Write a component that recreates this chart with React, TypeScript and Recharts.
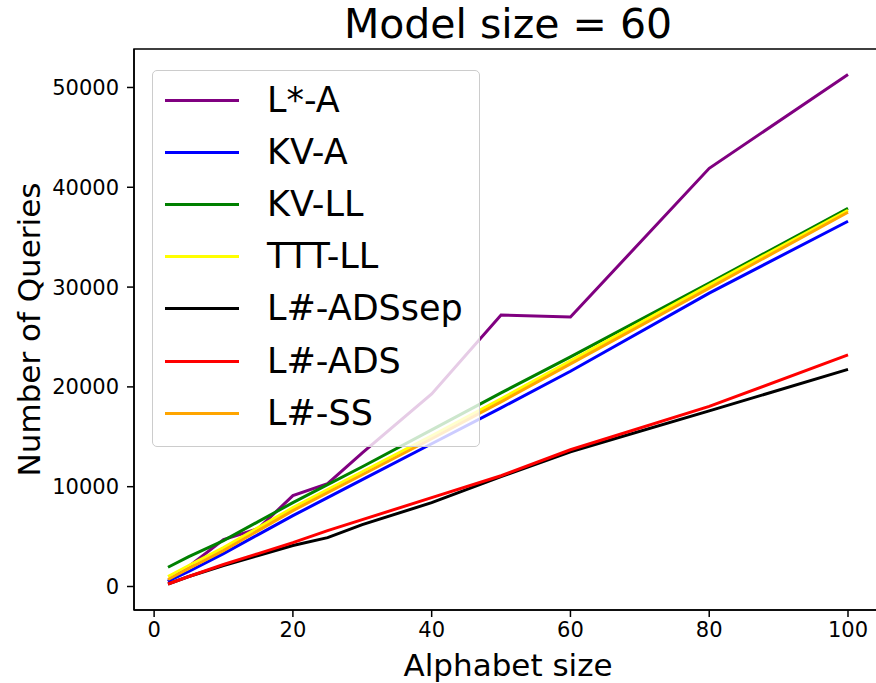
import React from "react";
import { CartesianGrid, Legend, Line, LineChart, ReferenceArea, XAxis, YAxis } from "recharts";

const alphabetSizes = [2, 5, 10, 15, 20, 25, 30, 40, 50, 60, 80, 100];

const lStarA = [500, 2000, 4700, 5800, 9100, 10300, 13400, 19300, 27200, 27000, 41900, 51300];
const kvA = [530, 1500, 3300, 5200, 7100, 8900, 10700, 14300, 17900, 21570, 29400, 36600];
const kvLL = [1930, 3000, 4600, 6500, 8400, 10200, 12000, 15700, 19400, 23000, 30400, 37900];
const tttLL = [1000, 2100, 3900, 5900, 7900, 9700, 11500, 15100, 18800, 22600, 30200, 37700];
const lsharpADSsep = [250, 1000, 2100, 3100, 4100, 4900, 6200, 8400, 11000, 13500, 17600, 21750];
const lsharpADS = [250, 1000, 2200, 3300, 4400, 5600, 6700, 8900, 11100, 13700, 18050, 23200];
const lsharpSS = [700, 1800, 3600, 5600, 7600, 9400, 11200, 14800, 18500, 22300, 29900, 37500];

const xTicks = [0, 20, 40, 60, 80, 100];
const yTicks = [0, 10000, 20000, 30000, 40000, 50000];

const series = [
  { key: "lStarA", name: "L*-A", color: "#800080", values: lStarA },
  { key: "kvA", name: "KV-A", color: "#0000ff", values: kvA },
  { key: "kvLL", name: "KV-LL", color: "#008000", values: kvLL },
  { key: "tttLL", name: "TTT-LL", color: "#ffff00", values: tttLL },
  { key: "adsSep", name: "L#-ADSsep", color: "#000000", values: lsharpADSsep },
  { key: "ads", name: "L#-ADS", color: "#ff0000", values: lsharpADS },
  { key: "ss", name: "L#-SS", color: "#ffa500", values: lsharpSS },
];

const data = alphabetSizes.map((x, i) => {
  const row: Record<string, number> = { x };
  series.forEach((s) => (row[s.key] = s.values[i]));
  return row;
});

const X_DOMAIN: [number, number] = [-2.9, 104.9];
const Y_DOMAIN: [number, number] = [-2355, 53855];
const FONT = "'DejaVu Sans', sans-serif";

function LegendBox() {
  return (
    <div
      style={{
        boxSizing: "border-box",
        width: 328,
        height: 377,
        border: "1.5px solid #cccccc",
        borderRadius: 5,
        background: "rgba(255,255,255,0.8)",
        paddingTop: 3,
        fontFamily: FONT,
      }}
    >
      {series.map((s) => (
        <div key={s.key} style={{ height: 52.2, display: "flex", alignItems: "center" }}>
          <div style={{ marginLeft: 12, width: 74, height: 3, background: s.color }} />
          <span style={{ marginLeft: 28, fontSize: 35, color: "#000", lineHeight: 1 }}>{s.name}</span>
        </div>
      ))}
    </div>
  );
}

export default function App() {
  return (
    <div
      style={{
        position: "absolute",
        left: 0,
        top: 0,
        width: 876,
        height: 683,
        overflow: "hidden",
        background: "#fff",
        fontFamily: FONT,
      }}
    >
      {/* title centred over the axes box (134..882) */}
      <div
        style={{
          position: "absolute",
          left: 140,
          top: 3.5,
          width: 736,
          textAlign: "center",
          fontSize: 41,
          lineHeight: "41px",
          color: "#000",
        }}
      >
        Model size = 60
      </div>
      <LineChart width={890} height={683} data={data} margin={{ top: 49, right: 8, left: 0, bottom: 0 }}>
        <CartesianGrid stroke="none" />
        <XAxis
          dataKey="x"
          type="number"
          domain={X_DOMAIN}
          ticks={xTicks}
          allowDataOverflow
          height={73}
          tickSize={7}
          tickMargin={5}
          axisLine={{ stroke: "#000", strokeWidth: 1.5 }}
          tickLine={{ stroke: "#000", strokeWidth: 1.5 }}
          tick={{ fontSize: 21, fill: "#000", fontFamily: FONT }}
          label={{ value: "Alphabet size", position: "insideBottom", offset: 7, fontSize: 31, fill: "#000", fontFamily: FONT }}
        />
        <YAxis
          type="number"
          domain={Y_DOMAIN}
          ticks={yTicks}
          allowDataOverflow
          width={134}
          tickSize={7}
          tickMargin={8}
          axisLine={{ stroke: "#000", strokeWidth: 1.5 }}
          tickLine={{ stroke: "#000", strokeWidth: 1.5 }}
          tick={{ fontSize: 21, fill: "#000", fontFamily: FONT }}
          label={{ value: "Number of Queries", angle: -90, position: "center", dx: -38, fontSize: 31, fill: "#000", fontFamily: FONT }}
        />
        <ReferenceArea
          x1={X_DOMAIN[0]}
          x2={X_DOMAIN[1]}
          y1={Y_DOMAIN[0]}
          y2={Y_DOMAIN[1]}
          fill="none"
          stroke="#000"
          strokeWidth={1.5}
          ifOverflow="visible"
        />
        {series.map((s) => (
          <Line
            key={s.key}
            dataKey={s.key}
            name={s.name}
            type="linear"
            stroke={s.color}
            strokeWidth={3}
            dot={false}
            activeDot={false}
            isAnimationActive={false}
          />
        ))}
        <Legend
          content={() => <LegendBox />}
          layout="horizontal"
          verticalAlign="middle"
          align="center"
          wrapperStyle={{ left: 152, top: 70, width: 328, height: 377 }}
        />
      </LineChart>
    </div>
  );
}
